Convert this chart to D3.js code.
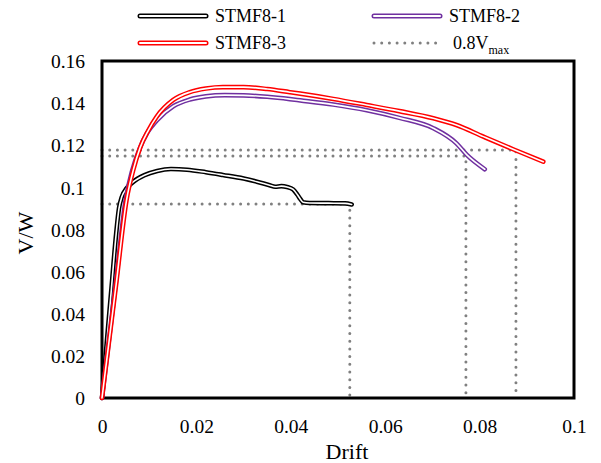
<!DOCTYPE html>
<html>
<head>
<meta charset="utf-8">
<script src="https://cdn.jsdelivr.net/npm/d3@7"></script>
<style>
  body { margin: 0; background: #fff; }
  svg { display: block; }
  text { font-family: "Liberation Serif", "Times New Roman", serif; fill: #000; }
</style>
</head>
<body>
<svg id="chart" width="601" height="463"></svg>
<script>
// Drift vs. normalised shear (V/W) for three specimens
const stmf81 = [
  [0, 0], [0.0010, 0.026], [0.0020, 0.052], [0.0030, 0.078], [0.0036, 0.090],
  [0.0042, 0.0955], [0.0052, 0.0995], [0.0066, 0.1026], [0.0090, 0.1058],
  [0.0117, 0.1078], [0.0146, 0.1087], [0.0180, 0.1084], [0.0220, 0.1072],
  [0.0256, 0.1059], [0.0300, 0.1042], [0.0328, 0.1027], [0.0355, 0.1010],
  [0.0367, 0.1003], [0.0380, 0.1006], [0.0392, 0.1002], [0.0405, 0.0990],
  [0.0414, 0.0965], [0.0420, 0.0945], [0.0426, 0.0929], [0.0440, 0.0926],
  [0.0480, 0.0925], [0.0515, 0.0924], [0.0529, 0.0919]
];
const stmf82 = [
  [0, 0], [0.0030, 0.056], [0.0050, 0.094], [0.0064, 0.108], [0.0079, 0.118],
  [0.0096, 0.126], [0.0116, 0.1318], [0.0151, 0.1385], [0.0186, 0.1417],
  [0.0220, 0.1432], [0.0260, 0.1438], [0.0300, 0.1437], [0.0350, 0.1430],
  [0.0398, 0.1419], [0.0420, 0.1413], [0.0490, 0.1393], [0.0561, 0.1366],
  [0.0630, 0.1330], [0.0702, 0.1281], [0.0751, 0.1209], [0.0773, 0.1154],
  [0.0811, 0.1086]
];
const stmf83 = [
  [0, 0], [0.0030, 0.054], [0.0052, 0.094], [0.0066, 0.108], [0.0081, 0.119],
  [0.0098, 0.127], [0.0116, 0.1336], [0.0151, 0.1415], [0.0186, 0.1452],
  [0.0220, 0.1469], [0.0256, 0.1476], [0.0300, 0.1476], [0.0350, 0.1467],
  [0.0398, 0.1452], [0.0420, 0.1445], [0.0490, 0.1420], [0.0561, 0.1391],
  [0.0630, 0.1362], [0.0702, 0.1328], [0.0751, 0.1296], [0.0808, 0.1241],
  [0.0871, 0.1181], [0.0935, 0.1122]
];
// 0.8 Vmax reference levels and the drift at which each is reached
const limitV = [0.0921, 0.1149, 0.1178];
const limitDrift = [0.0525, 0.0771, 0.0877];

const xTicks = [0, 0.02, 0.04, 0.06, 0.08, 0.1];
const yTicks = [0, 0.02, 0.04, 0.06, 0.08, 0.1, 0.12, 0.14, 0.16];

const svg = d3.select("#chart");
const plotLeft = 102, plotRight = 574, plotTop = 61, plotBottom = 398;

const x = d3.scaleLinear().domain([0, 0.1]).range([plotLeft, plotRight]);
const y = d3.scaleLinear().domain([0, 0.16]).range([plotBottom, plotTop]);

// axes: labels only, no tick marks
const xAxis = d3.axisBottom(x).tickValues(xTicks).tickSize(0).tickPadding(0)
  .tickFormat(d => d3.format("~g")(d));
const gx = svg.append("g").attr("transform", `translate(0,${plotBottom})`).call(xAxis);
gx.select(".domain").remove();
gx.selectAll("text").attr("dy", null).attr("y", 35)
  .style("font-family", '"Liberation Serif", serif').style("font-size", "19.5px");

const yAxis = d3.axisLeft(y).tickValues(yTicks).tickSize(0).tickPadding(0)
  .tickFormat(d => d3.format("~g")(d));
const gy = svg.append("g").attr("transform", `translate(${plotLeft - 17},0)`).call(yAxis);
gy.select(".domain").remove();
gy.selectAll("text").attr("dy", "0.34em").attr("x", 0)
  .style("font-family", '"Liberation Serif", serif').style("font-size", "19.5px");

// axis titles
svg.append("text").attr("x", 347).attr("y", 459).attr("text-anchor", "middle")
  .style("font-size", "22px").text("Drift");
svg.append("text").attr("transform", "translate(33,233) rotate(-90)")
  .attr("text-anchor", "middle").style("font-size", "22px").text("V/W");

// dotted 0.8Vmax guides
const dotStyle = sel => sel.attr("fill", "none").attr("stroke", "#808080")
  .attr("stroke-width", 3).attr("stroke-linecap", "round")
  .attr("stroke-dasharray", "0 7.7");
const guide = d3.line().x(d => x(d[0])).y(d => y(d[1]));
limitV.forEach((v, i) => {
  svg.append("path")
    .attr("d", guide([[0, v], [limitDrift[i], v], [limitDrift[i], 0]]))
    .call(dotStyle);
});

// plot frame
svg.append("rect").attr("x", plotLeft).attr("y", plotTop)
  .attr("width", plotRight - plotLeft).attr("height", plotBottom - plotTop)
  .attr("fill", "none").attr("stroke", "#000").attr("stroke-width", 3);

// double-stroke curves
const line = d3.line().x(d => x(d[0])).y(d => y(d[1])).curve(d3.curveMonotoneX);
const series = [
  { data: stmf81, color: "#000000" },
  { data: stmf82, color: "#7030A0" },
  { data: stmf83, color: "#FF0000" }
];
series.forEach(s => {
  svg.append("path").attr("d", line(s.data)).attr("fill", "none")
    .attr("stroke", s.color).attr("stroke-width", 4.6)
    .attr("stroke-linecap", "round").attr("stroke-linejoin", "round");
  svg.append("path").attr("d", line(s.data)).attr("fill", "none")
    .attr("stroke", "#fff").attr("stroke-width", 1.6)
    .attr("stroke-linecap", "round").attr("stroke-linejoin", "round");
});

// legend
const legend = [
  { name: "STMF8-1", color: "#000000", lx: 138, row: 16 },
  { name: "STMF8-2", color: "#7030A0", lx: 372, row: 16 },
  { name: "STMF8-3", color: "#FF0000", lx: 138, row: 43 }
];
legend.forEach(l => {
  const g = svg.append("g");
  g.append("line").attr("x1", l.lx + 2).attr("x2", l.lx + 68)
    .attr("y1", l.row).attr("y2", l.row)
    .attr("stroke", l.color).attr("stroke-width", 5).attr("stroke-linecap", "round");
  g.append("line").attr("x1", l.lx + 2).attr("x2", l.lx + 68)
    .attr("y1", l.row).attr("y2", l.row)
    .attr("stroke", "#fff").attr("stroke-width", 2).attr("stroke-linecap", "round");
  g.append("text").attr("x", l.lx + 77).attr("y", l.row + 6)
    .style("font-size", "18px").text(l.name);
});
svg.append("line").attr("x1", 374).attr("x2", 440).attr("y1", 43).attr("y2", 43)
  .call(dotStyle);
const lt = svg.append("text").attr("x", 453).attr("y", 49).style("font-size", "18px");
lt.append("tspan").text("0.8V");
lt.append("tspan").attr("dy", 5).style("font-size", "12px").text("max");
</script>
</body>
</html>
